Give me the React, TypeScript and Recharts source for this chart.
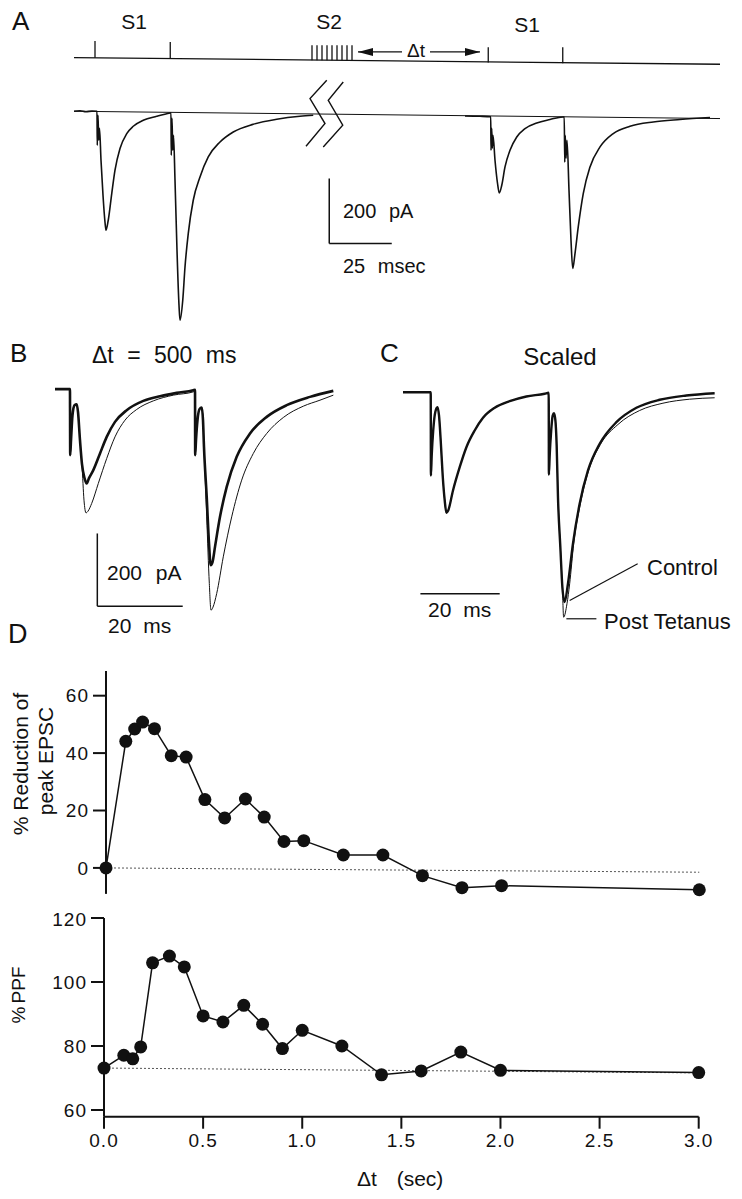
import React from 'react';
import { ComposedChart, Line, XAxis, YAxis, ReferenceLine } from 'recharts';

const FONT = "'Liberation Sans', Arial, Helvetica, sans-serif";
const INK = '#111';

// ---------------- Panel A (t in ms, v in pA) ----------------
const traceA1 = [
  { t: 0, v: 0 }, { t: 2.4, v: 1.5 }, { t: 4.8, v: -1.5 }, { t: 7.2, v: 0.5 }, { t: 9.2, v: 0 },
  { t: 9.3, v: -104.6 }, { t: 9.6, v: -12.3 }, { t: 9.9, v: -89.2 }, { t: 10.2, v: -52.3 },
  { t: 10.8, v: -150.8 }, { t: 11.6, v: -258.5 }, { t: 12.4, v: -341.5 }, { t: 12.8, v: -366.2 },
  { t: 13.7, v: -335.4 }, { t: 15.1, v: -253.2 }, { t: 16.4, v: -181.5 }, { t: 18.4, v: -114.8 },
  { t: 21.1, v: -68.6 }, { t: 23.7, v: -46.2 }, { t: 27.7, v: -27.7 }, { t: 33.1, v: -15.4 }, { t: 38.4, v: -5.2 },
  { t: 38.8, v: -4.6 }, { t: 38.9, v: -135.4 }, { t: 39.2, v: -21.5 }, { t: 39.5, v: -120 }, { t: 39.8, v: -73.8 },
  { t: 40.4, v: -212.3 }, { t: 41.2, v: -427.7 }, { t: 42, v: -596.9 }, { t: 42.4, v: -643.1 },
  { t: 43.5, v: -581.5 }, { t: 44.4, v: -479.1 }, { t: 45.7, v: -376.3 }, { t: 47.7, v: -273.8 },
  { t: 50.4, v: -202.2 }, { t: 53.7, v: -140.6 }, { t: 58.4, v: -94.5 }, { t: 63.7, v: -63.7 },
  { t: 71.7, v: -40 }, { t: 81.1, v: -24.6 }, { t: 90.4, v: -15.4 }, { t: 95.7, v: -12.3 },
];
const traceA2 = [
  { t: 156.4, v: -14.5 }, { t: 162.4, v: -15.4 }, { t: 166.7, v: -16.9 },
  { t: 166.8, v: -120 }, { t: 167.1, v: -52.3 }, { t: 167.3, v: -113.8 }, { t: 167.6, v: -73.8 },
  { t: 168.4, v: -150.8 }, { t: 169.4, v: -221.5 }, { t: 170.1, v: -251.4 }, { t: 171.1, v: -227.7 },
  { t: 172.4, v: -171.4 }, { t: 174.4, v: -120 }, { t: 177.1, v: -79.1 }, { t: 180.4, v: -53.2 },
  { t: 185.1, v: -36 }, { t: 190.4, v: -25.5 }, { t: 195.5, v: -17.5 },
  { t: 196.1, v: -17.5 }, { t: 196.3, v: -156.9 }, { t: 196.5, v: -73.8 }, { t: 196.8, v: -144.6 }, { t: 197.2, v: -89.2 },
  { t: 198, v: -243.1 }, { t: 198.8, v: -396.9 }, { t: 199.5, v: -484 }, { t: 200.4, v: -437.9 },
  { t: 201.7, v: -356 }, { t: 203.7, v: -253.2 }, { t: 206.4, v: -171.4 }, { t: 210.4, v: -109.8 },
  { t: 215.7, v: -68.6 }, { t: 222.4, v: -46.2 }, { t: 231.7, v: -32.9 }, { t: 242.4, v: -25.5 }, { t: 254.4, v: -19.4 },
];
const baselineA = [{ t: 0, v: 0 }, { t: 258.4, v: -22.5 }];
const stimLineA = [{ t: 0, v: 165.2 }, { t: 258.4, v: 144.6 }];
const stimTicksA = [
  { t: 8.4, lo: 164.5, hi: 216.3 },
  { t: 38.5, lo: 161.8, hi: 213.2 },
  { t: 165.7, lo: 149.8, hi: 196.9 },
  { t: 195.5, lo: 147.7, hi: 196.9 },
];
const tetanusTimesA = [95.2, 97.2, 99.2, 101.2, 103.2, 105.2, 107.2, 109.2, 111.2];
const tetanusLoA = 156.9;
const tetanusHiA = 203.1;
const arrowLeftA = [{ t: 113.6, v: 182.5, dir: -1 }, { t: 131.2, v: 182.5 }];
const arrowRightA = [{ t: 142.4, v: 182.5 }, { t: 162.4, v: 182.5, dir: 1 }];
const breakA1 = [{ t: 101.1, v: 95.4 }, { t: 94.4, v: 39.1 }, { t: 100.4, v: -37.8 }, { t: 92.8, v: -107.7 }];
const breakA2 = [{ t: 107.7, v: 90.2 }, { t: 101.7, v: 33.8 }, { t: 107.5, v: -43.1 }, { t: 99.7, v: -109.8 }];
const scaleBarA = { t0: 102.1, t1: 127.1, v0: -207.1, v1: -407.1 };

// ---------------- Panel B ----------------
const traceBThick = [
  { t: 0, v: 0 }, { t: 3.5, v: 0 }, { t: 3.56, v: -181.6 }, { t: 3.75, v: -140.3 }, { t: 4.1, v: -71.5 },
  { t: 4.57, v: -44 }, { t: 5.08, v: -41.3 }, { t: 5.39, v: -63.3 }, { t: 5.85, v: -140.3 },
  { t: 6.32, v: -206.3 }, { t: 6.91, v: -244.8 }, { t: 7.42, v: -259.4 }, { t: 7.96, v: -244.8 },
  { t: 8.97, v: -222.8 }, { t: 10.54, v: -176.9 }, { t: 12.11, v: -131.2 }, { t: 14.05, v: -90 },
  { t: 16.79, v: -57.8 }, { t: 20.68, v: -32.2 }, { t: 24.59, v: -19.3 }, { t: 28.5, v: -10.2 },
  { t: 32.39, v: -2.8 }, { t: 32.79, v: -1.4 }, { t: 32.83, v: -181.6 }, { t: 33.02, v: -140.3 },
  { t: 33.37, v: -85.3 }, { t: 33.84, v: -55 }, { t: 34.36, v: -50.3 }, { t: 34.66, v: -85.3 },
  { t: 34.89, v: -158.7 }, { t: 35.53, v: -296.3 }, { t: 36.07, v: -424.5 }, { t: 36.46, v: -484.2 },
  { t: 36.89, v: -475.9 }, { t: 37.47, v: -433.8 }, { t: 38.64, v: -351.3 }, { t: 40.21, v: -268.8 },
  { t: 42.55, v: -186.2 }, { t: 45.67, v: -121.9 }, { t: 49.58, v: -76.2 }, { t: 54.26, v: -44 },
  { t: 59.72, v: -21.2 }, { t: 65.18, v: -4.7 },
];
const traceBThin = [
  { t: 0, v: 0 }, { t: 3.5, v: 0 }, { t: 3.56, v: -181.6 }, { t: 3.75, v: -140.3 }, { t: 4.1, v: -71.5 },
  { t: 4.57, v: -44 }, { t: 5.08, v: -41.3 }, { t: 5.39, v: -63.3 }, { t: 5.85, v: -140.3 },
  { t: 6.32, v: -209.1 }, { t: 6.79, v: -305.4 }, { t: 7.26, v: -340.3 }, { t: 7.73, v: -335.6 },
  { t: 8.59, v: -314.4 }, { t: 10.14, v: -259.4 }, { t: 12.11, v: -190.6 }, { t: 14.05, v: -131.2 },
  { t: 16.39, v: -85.3 }, { t: 19.13, v: -55.8 }, { t: 23.02, v: -32.2 }, { t: 27.7, v: -16.5 },
  { t: 32.39, v: -7.4 }, { t: 32.79, v: -4 }, { t: 32.83, v: -181.6 }, { t: 33.02, v: -140.3 },
  { t: 33.37, v: -85.3 }, { t: 33.84, v: -55 }, { t: 34.36, v: -50.3 }, { t: 34.66, v: -85.3 },
  { t: 34.89, v: -158.7 }, { t: 35.53, v: -351.3 }, { t: 36.14, v: -534.5 }, { t: 36.53, v: -608 },
  { t: 37, v: -599.7 }, { t: 37.87, v: -562 }, { t: 39.41, v: -461.3 }, { t: 41.38, v: -351.3 },
  { t: 43.72, v: -250.3 }, { t: 46.44, v: -176.9 }, { t: 49.58, v: -121.9 }, { t: 53.47, v: -77.9 },
  { t: 58.15, v: -46.8 }, { t: 62.06, v: -30.3 }, { t: 65.18, v: -16.5 },
];
const scaleBarB = { t0: 9.91, t1: 29.91, v0: -397, v1: -597 };

// ---------------- Panel C (scaled) ----------------
const traceCShared = [
  { t: 0, v: 0 }, { t: 6.99, v: 0 }, { t: 7.04, v: -229 }, { t: 7.24, v: -174 }, { t: 7.62, v: -105.3 },
  { t: 8.12, v: -55.8 }, { t: 8.68, v: -41.3 }, { t: 9.08, v: -64.1 }, { t: 9.51, v: -132.8 },
  { t: 10.01, v: -229 }, { t: 10.52, v: -297.8 }, { t: 10.95, v: -331.7 }, { t: 11.4, v: -325.3 },
  { t: 12.61, v: -270.3 }, { t: 14.3, v: -206.3 }, { t: 15.99, v: -151.3 }, { t: 18.08, v: -105.3 },
  { t: 20.18, v: -70.4 }, { t: 23.13, v: -42.9 }, { t: 26.91, v: -24.8 }, { t: 31.12, v: -11.8 },
  { t: 35.74, v: -4.4 }, { t: 36.75, v: -1.7 }, { t: 36.8, v: -226.3 }, { t: 37, v: -174.1 },
  { t: 37.38, v: -105.3 }, { t: 37.76, v: -64.1 }, { t: 38.08, v: -57.8 }, { t: 38.44, v: -77.8 },
  { t: 38.76, v: -146.6 }, { t: 39.09, v: -288.8 }, { t: 39.69, v: -426.3 }, { t: 40.2, v: -536.3 },
];
const traceCControlTail = [
  { t: 40.77, v: -577.5 }, { t: 41.61, v: -526.9 }, { t: 42.87, v: -416.9 }, { t: 44.56, v: -306.9 },
  { t: 46.66, v: -215.3 }, { t: 49.61, v: -141.9 }, { t: 53.82, v: -82.5 }, { t: 58.87, v: -42.9 },
  { t: 64.74, v: -20.9 }, { t: 71.47, v: -9.1 }, { t: 78.61, v: -2.8 },
];
const traceCPostTail = [
  { t: 40.52, v: -618.8 }, { t: 41.36, v: -581.9 }, { t: 42.04, v: -526.9 }, { t: 43.05, v: -416.9 },
  { t: 44.74, v: -306.9 }, { t: 46.83, v: -215.3 }, { t: 49.79, v: -143.8 }, { t: 54.22, v: -88.8 },
  { t: 59.7, v: -50.3 }, { t: 65.57, v: -30.3 }, { t: 72.31, v: -19.3 }, { t: 78.61, v: -15.4 },
];
const traceCControl = [...traceCShared, ...traceCControlTail];
const traceCPost = [...traceCShared, ...traceCPostTail];
const controlPointerC = [{ t: 59.19, v: -471.9 }, { t: 42.04, v: -572.8 }];
const postPointerC = [{ t: 41.21, v: -623.2 }, { t: 48.78, v: -623.2 }];
const scaleBarC = { t0: 4.39, t1: 24.39, v: -554.4 };

// ---------------- Panel D ----------------
const dtSec = [0, 0.1, 0.145, 0.185, 0.245, 0.33, 0.405, 0.5, 0.6, 0.705, 0.8, 0.9, 1.0, 1.2, 1.4, 1.6, 1.8, 2.0, 3.0];
const reductionPct = [0, 44.1, 48.4, 50.8, 48.5, 39.1, 38.6, 23.8, 17.4, 24.0, 17.7, 9.2, 9.5, 4.5, 4.5, -2.7, -6.9, -6.2, -7.6];
const ppfPct = [73.1, 77.1, 76.0, 79.7, 106.0, 108.1, 104.7, 89.4, 87.5, 92.7, 86.8, 79.2, 84.9, 80.0, 71.0, 72.2, 78.1, 72.4, 71.7];
const reductionTicks = [0, 20, 40, 60];
const ppfTicks = [60, 80, 100, 120];
const dtTicks = [0, 0.5, 1.0, 1.5, 2.0, 2.5, 3.0];
const reductionBaseline = [{ t: 0, v: 0 }, { t: 3, v: -1.5 }];
const ppfBaseline = [{ t: 0, v: 73.1 }, { t: 3, v: 71.6 }];

const reductionData = dtSec.map((t, i) => ({ t, v: reductionPct[i] }));
const ppfData = dtSec.map((t, i) => ({ t, v: ppfPct[i] }));

// ---------------- helpers ----------------
const trace = (data: any[], sw: number, key: string, type: any = 'monotone') => (
  <Line key={key} data={data} dataKey="v" type={type} stroke={INK} strokeWidth={sw}
    dot={false} activeDot={false} isAnimationActive={false} />
);
const seg = (x0: number, y0: number, x1: number, y1: number, key: string, sw = 1.5) => (
  <ReferenceLine key={key} segment={[{ x: x0, y: y0 }, { x: x1, y: y1 }]} stroke={INK}
    strokeWidth={sw} ifOverflow="visible" />
);

const arrowDot = (props: any) => {
  const { cx, cy, payload, index } = props;
  if (!payload || !payload.dir) return <g key={'ad' + index} />;
  const L = 15, H = 4;
  const bx = cx - payload.dir * L;
  return <polygon key={'ad' + index} points={`${cx},${cy} ${bx},${cy - H} ${bx},${cy + H}`} fill={INK} />;
};

function TraceChart(props: any) {
  const { left, top, width, height, xDomain, yDomain, children } = props;
  return (
    <div style={{ position: 'absolute', left, top, width, height }}>
      <ComposedChart width={width} height={height} margin={{ top: 0, right: 0, bottom: 0, left: 0 }}>
        <XAxis dataKey="t" type="number" domain={xDomain} hide />
        <YAxis dataKey="v" type="number" domain={yDomain} hide />
        {children}
      </ComposedChart>
    </div>
  );
}

const axisStroke = { stroke: INK, strokeWidth: 2 };
const tickStyle = { fontSize: 19, fill: INK, fontFamily: FONT, letterSpacing: 1 };

export default function App() {
  return (
    <div style={{ position: 'absolute', left: 0, top: 0, width: 742, height: 1199, background: '#fff', fontFamily: FONT }}>
      {/* Panel A */}
      <TraceChart left={74} top={29.75} width={650} height={302.25} xDomain={[0, 260]} yDomain={[-680, 250]}>
        {trace(stimLineA, 1.3, 'stim', 'linear')}
        {stimTicksA.map((s, i) => seg(s.t, s.lo, s.t, s.hi, 'st' + i, 1.3))}
        {tetanusTimesA.map((t, i) => seg(t, tetanusLoA, t, tetanusHiA, 'tt' + i, 1.3))}
        <Line data={arrowLeftA} dataKey="v" type="linear" stroke={INK} strokeWidth={1.3} dot={arrowDot} activeDot={false} isAnimationActive={false} />
        <Line data={arrowRightA} dataKey="v" type="linear" stroke={INK} strokeWidth={1.3} dot={arrowDot} activeDot={false} isAnimationActive={false} />
        {trace(baselineA, 1, 'base', 'linear')}
        {trace(breakA1, 1.4, 'br1', 'linear')}
        {trace(breakA2, 1.4, 'br2', 'linear')}
        {trace(traceA1, 1.6, 'a1')}
        {trace(traceA2, 1.6, 'a2')}
        {seg(scaleBarA.t0, scaleBarA.v0, scaleBarA.t0, scaleBarA.v1, 'sav')}
        {seg(scaleBarA.t0, scaleBarA.v1, scaleBarA.t1, scaleBarA.v1, 'sah')}
      </TraceChart>

      {/* Panel B */}
      <TraceChart left={55} top={370.8} width={290.36} height={250.8} xDomain={[0, 68]} yDomain={[-640, 50]}>
        {trace(traceBThin, 1, 'bthin')}
        {trace(traceBThick, 2.6, 'bthick')}
        {seg(scaleBarB.t0, scaleBarB.v0, scaleBarB.t0, scaleBarB.v1, 'sbv')}
        {seg(scaleBarB.t0, scaleBarB.v1, scaleBarB.t1, scaleBarB.v1, 'sbh')}
      </TraceChart>

      {/* Panel C */}
      <TraceChart left={403.3} top={373.5} width={325.1} height={250.9} xDomain={[0, 82]} yDomain={[-640, 50]}>
        {trace(traceCPost, 1, 'cpost')}
        {trace(traceCControl, 2.4, 'cctrl')}
        {trace(controlPointerC, 1.2, 'cp1', 'linear')}
        {trace(postPointerC, 1.2, 'cp2', 'linear')}
        {seg(scaleBarC.t0, scaleBarC.v, scaleBarC.t1, scaleBarC.v, 'sch')}
      </TraceChart>

      {/* Panel D top: % reduction */}
      <div style={{ position: 'absolute', left: 0, top: 661, width: 742, height: 242.9 }}>
        <ComposedChart width={742} height={242.9} margin={{ top: 10, right: 42.7, bottom: 10, left: 0 }}>
          <XAxis dataKey="t" type="number" domain={[0, 3]} hide />
          <YAxis dataKey="v" type="number" domain={[-9.05, 68.6]} ticks={reductionTicks} width={106}
            axisLine={axisStroke} tickLine={axisStroke} tickSize={13} tickMargin={4} tick={tickStyle} />
          <Line data={reductionBaseline} dataKey="v" type="linear" stroke="#555" strokeWidth={1}
            strokeDasharray="2 2" dot={false} activeDot={false} isAnimationActive={false} />
          <Line data={reductionData} dataKey="v" type="linear" stroke={INK} strokeWidth={1.5}
            dot={{ r: 6.5, fill: INK, stroke: INK, strokeWidth: 0 }} activeDot={false} isAnimationActive={false} />
        </ComposedChart>
      </div>

      {/* Panel D bottom: % PPF */}
      <div style={{ position: 'absolute', left: 0, top: 908.3, width: 742, height: 270 }}>
        <ComposedChart width={742} height={270} margin={{ top: 10, right: 43.3, bottom: 0, left: 0 }}>
          <XAxis dataKey="t" type="number" domain={[0, 3]} ticks={dtTicks} height={61.3}
            tickFormatter={(v: number) => v.toFixed(1)}
            axisLine={axisStroke} tickLine={axisStroke} tickSize={12} tickMargin={5} tick={tickStyle} />
          <YAxis dataKey="v" type="number" domain={[57.9, 120]} ticks={ppfTicks} width={104}
            axisLine={axisStroke} tickLine={axisStroke} tickSize={13} tickMargin={4} tick={tickStyle} />
          <Line data={ppfBaseline} dataKey="v" type="linear" stroke="#555" strokeWidth={1}
            strokeDasharray="2 2" dot={false} activeDot={false} isAnimationActive={false} />
          <Line data={ppfData} dataKey="v" type="linear" stroke={INK} strokeWidth={1.5}
            dot={{ r: 6.5, fill: INK, stroke: INK, strokeWidth: 0 }} activeDot={false} isAnimationActive={false} />
        </ComposedChart>
      </div>

      {/* Text annotations */}
      <svg width={742} height={1199} style={{ position: 'absolute', left: 0, top: 0, pointerEvents: 'none' }}
        fontFamily={FONT} fill={INK}>
        <text x={12} y={30} fontSize={26}>A</text>
        <text x={134} y={29} fontSize={21} textAnchor="middle">S1</text>
        <text x={329} y={29} fontSize={21} textAnchor="middle">S2</text>
        <text x={527} y={32} fontSize={21} textAnchor="middle">S1</text>
        <text x={416} y={57} fontSize={19} textAnchor="middle">Δt</text>
        <text x={343} y={218} fontSize={20} wordSpacing={7}>200 pA</text>
        <text x={343} y={273} fontSize={20} wordSpacing={7}>25 msec</text>

        <text x={10} y={362} fontSize={26}>B</text>
        <text x={92} y={363} fontSize={23} wordSpacing={7}>Δt = 500 ms</text>
        <text x={380} y={362} fontSize={26}>C</text>
        <text x={560} y={365} fontSize={24} textAnchor="middle">Scaled</text>
        <text x={107} y={580} fontSize={21} wordSpacing={8}>200 pA</text>
        <text x={108} y={633} fontSize={21} wordSpacing={6}>20 ms</text>
        <text x={428} y={617} fontSize={21} wordSpacing={6}>20 ms</text>
        <text x={647} y={575} fontSize={22}>Control</text>
        <text x={604} y={629} fontSize={22}>Post Tetanus</text>

        <text x={8} y={643} fontSize={27}>D</text>
        <text x={28} y={764} fontSize={21} textAnchor="middle" transform="rotate(-90 28 764)">% Reduction of</text>
        <text x={53} y={761} fontSize={21} textAnchor="middle" transform="rotate(-90 53 761)">peak EPSC</text>
        <text x={25} y={995} fontSize={19} textAnchor="middle" wordSpacing={-2} transform="rotate(-90 25 995)">% PPF</text>
        <text x={357} y={1186} fontSize={21} wordSpacing={14}>Δt (sec)</text>
      </svg>
    </div>
  );
}
